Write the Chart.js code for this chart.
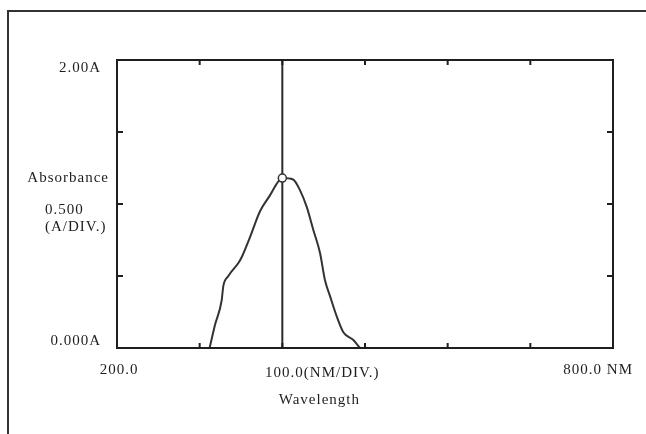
<!DOCTYPE html>
<html>
<head>
<meta charset="utf-8">
<script src="https://cdn.jsdelivr.net/npm/chart.js@4/dist/chart.umd.min.js"></script>
<style>
  body { margin: 0; background: #fff; }
  #wrap { width: 646px; height: 434px; }
</style>
</head>
<body>
<div id="wrap"><canvas id="myChart" width="646" height="434"></canvas></div>
<script>
// espectro
const wavelengths = [312, 318.5, 326.6, 328.6, 334.7, 346.8, 350.8, 360.9, 373, 385, 395, 400, 413, 421, 429.5, 437.5, 445.6, 451.6, 457.7, 465.8, 473.8, 485.9, 494];
const absorbance  = [0, 0.16, 0.33, 0.43, 0.50, 0.59, 0.63, 0.77, 0.95, 1.06, 1.155, 1.18, 1.17, 1.10, 0.98, 0.82, 0.66, 0.47, 0.36, 0.22, 0.11, 0.055, 0];
const cursorNm = 400;
const peakAbs = 1.18;

const xTicks = [200, 300, 400, 500, 600, 700, 800];
const yTicks = [0, 0.5, 1, 1.5, 2];
const xLabels = { 200: '200.0', 800: '800.0 NM' };
const yLabels = { 0: '0.000A', 2: '2.00A' };
const yTitle = ['Absorbance', '0.500', '(A/DIV.)'];
const xTitle = ['100.0(NM/DIV.)', 'Wavelength'];

const ink = '#1e1e1e';
const font = '15px "Liberation Serif", "DejaVu Serif", serif';

const curve = wavelengths.map((w, i) => ({ x: w, y: absorbance[i] }));

// marco, ticks hacia dentro y textos
const decor = {
  id: 'decor',
  beforeDraw(chart) {
    const c = chart.ctx;
    c.save();
    c.fillStyle = '#fff';
    c.fillRect(0, 0, chart.width, chart.height);
    c.strokeStyle = '#333';
    c.lineWidth = 2;
    c.beginPath();
    c.moveTo(8, chart.height);
    c.lineTo(8, 11);
    c.lineTo(chart.width, 11);
    c.stroke();
    c.restore();
  },
  afterDraw(chart) {
    const c = chart.ctx;
    const a = chart.chartArea;
    const xs = chart.scales.x, ys = chart.scales.y;
    c.save();
    c.strokeStyle = ink;
    c.lineWidth = 2;
    c.strokeRect(a.left, a.top, a.right - a.left, a.bottom - a.top);

    c.beginPath();
    xTicks.slice(1, -1).forEach(v => {
      const px = xs.getPixelForValue(v);
      c.moveTo(px, a.top); c.lineTo(px, a.top + 5);
      c.moveTo(px, a.bottom); c.lineTo(px, a.bottom - 5);
    });
    yTicks.slice(1, -1).forEach(v => {
      const py = ys.getPixelForValue(v);
      c.moveTo(a.left, py); c.lineTo(a.left + 6, py);
      c.moveTo(a.right, py); c.lineTo(a.right - 6, py);
    });
    c.stroke();

    c.fillStyle = ink;
    c.font = font;
    c.letterSpacing = '1px';
    c.textBaseline = 'middle';

    c.textAlign = 'right';
    Object.keys(yLabels).forEach(k => {
      c.fillText(yLabels[k], a.left - 16, ys.getPixelForValue(+k) + (k == 0 ? -7 : 8));
    });
    c.fillText(yTitle[0], a.left - 8, ys.getPixelForValue(peakAbs));
    c.textAlign = 'left';
    c.fillText(yTitle[1], 45, ys.getPixelForValue(peakAbs) + 32);
    c.fillText(yTitle[2], 45, ys.getPixelForValue(peakAbs) + 49);

    c.textAlign = 'center';
    c.fillText(xLabels[200], xs.getPixelForValue(200) + 2, a.bottom + 22);
    c.textAlign = 'right';
    c.fillText(xLabels[800], xs.getPixelForValue(800) + 20, a.bottom + 22);
    c.textAlign = 'center';
    c.fillText(xTitle[0], xs.getPixelForValue(cursorNm) + 40, a.bottom + 25);
    c.fillText(xTitle[1], xs.getPixelForValue(cursorNm) + 37, a.bottom + 52);
    c.restore();
  }
};

new Chart(document.getElementById('myChart').getContext('2d'), {
  type: 'scatter',
  data: {
    datasets: [
      {
        data: curve,
        showLine: true,
        borderColor: '#333',
        borderWidth: 2,
        cubicInterpolationMode: 'monotone',
        pointRadius: 0,
        order: 2
      },
      {
        data: [{ x: cursorNm, y: 0 }, { x: cursorNm, y: 2 }],
        showLine: true,
        borderColor: '#2a2a2a',
        borderWidth: 2,
        pointRadius: 0,
        order: 1
      },
      {
        data: [{ x: cursorNm, y: peakAbs }],
        pointRadius: 4,
        pointBackgroundColor: '#fff',
        pointBorderColor: '#333',
        pointBorderWidth: 1.5,
        order: 0
      }
    ]
  },
  options: {
    responsive: false,
    animation: false,
    devicePixelRatio: 1,
    layout: { padding: { left: 117, right: 33, top: 60, bottom: 86 } },
    plugins: { legend: { display: false }, tooltip: { enabled: false } },
    scales: {
      x: {
        type: 'linear', min: 200, max: 800,
        ticks: { display: false, stepSize: 100 },
        grid: { display: false },
        border: { display: false },
        afterFit(s) { s.height = 0; }
      },
      y: {
        min: 0, max: 2,
        ticks: { display: false, stepSize: 0.5 },
        grid: { display: false },
        border: { display: false },
        afterFit(s) { s.width = 0; }
      }
    }
  },
  plugins: [decor]
});
</script>
</body>
</html>
